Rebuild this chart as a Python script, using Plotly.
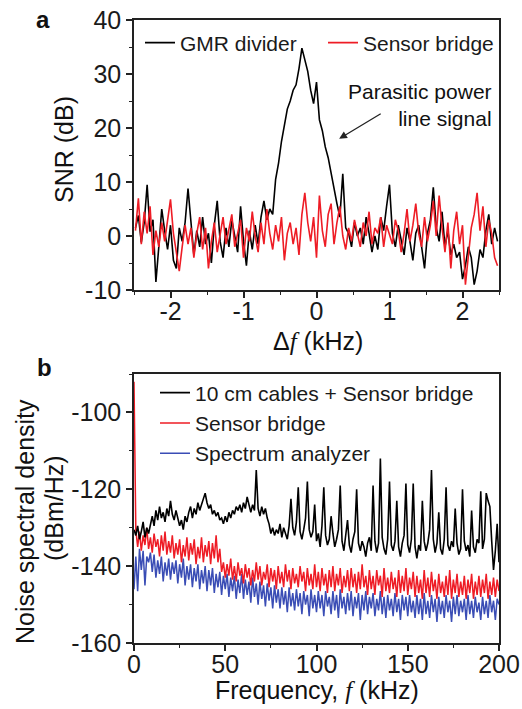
import plotly.graph_objects as go

# ---------------- Panel a data ----------------
a_start, a_step = -2.48, 0.04
gmr_divider = [1.5, 3.8, -1.2, 2.5, 9.5, 0.8, 3.0, -8.5, -2.0, 5.0,
               1.0, -2.5, 2.0, -4.5, -6.0, 1.5, -1.0, 2.5, 8.8, 2.0,
               -3.5, 1.0, -2.0, 3.5, -1.5, 0.5, -5.0, 2.0, 6.5, -1.0,
               -4.0, 1.5, -2.0, 3.0, 0.0, -3.0, 5.5, -1.0, -5.5, 1.0,
               -2.5, 2.0, -1.5, 3.5, 6.5, 3.0, 5.0, 4.0, 10.5, 13.5,
               17.5, 20.5, 23.5, 25.0, 27.0, 28.0, 31.0, 34.8, 32.5, 30.5,
               27.0, 24.5, 28.5, 21.5, 19.5, 16.5, 14.5, 11.5, 8.5, 6.0,
               3.5, 11.5, 1.5, 0.5, -2.0, 2.5, 0.0, 1.5, -1.5, 3.5,
               0.5, -3.0, 0.0, -2.5, 3.5, 1.0, 5.5, 9.5, 0.5, -2.0,
               2.0, -1.0, -3.5, 1.5, -1.0, -4.5, 0.5, 2.0, -2.5, -6.0,
               0.5, 3.0, 9.0, 1.5, -1.0, 4.5, -2.0, 1.0, -3.5, -1.5,
               -4.0, -3.0, -8.0, -5.5, -2.0, -4.0, -9.0, -6.5, -2.5, -4.0,
               1.0, 4.0, -1.5, 1.5, -1.0]
sensor_bridge_a = [1.0, 7.0, -1.5, 4.5, 0.5, 5.5, -3.5, 1.0, -2.0, 2.5,
                   -1.0, 3.0, 6.8, 0.5, -3.0, -6.5, -2.0, 2.0, -1.5, 1.5,
                   -4.0, 0.5, 3.5, -2.5, 1.5, -6.0, -1.0, 2.5, -3.0, 0.0,
                   3.5, -1.5, 1.0, 4.0, -2.0, 0.5, 3.0, -4.0, 1.5, -1.0,
                   4.5, 0.0, -3.0, 2.5, -1.5, 5.0, 0.5, -2.5, 2.0, -1.0,
                   3.5, -4.5, 0.5, 2.5, -1.5, 1.5, -3.5, 4.0, 8.0, 2.5,
                   -1.0, 3.5, -4.0, 7.5, 1.0, -2.0, 4.0, 6.0, -1.5, 2.5,
                   5.5, 0.0, -2.5, 1.5, -1.0, 3.0, 0.5, -2.0, 2.5, 0.0,
                   4.5, -1.5, 1.5, 0.5, 3.5, -2.0, 2.0, 0.0, -1.5, 3.0,
                   1.0, -3.0, 0.5, 5.0, -1.0, 2.0, 6.0, 0.5, -2.0, 3.5,
                   -1.0, 2.0, 6.5, 0.0, 7.5, 1.5, -3.0, 2.5, -6.0, 1.0,
                   4.5, -1.5, 2.0, -9.0, -3.0, 1.5, 4.0, 8.0, 1.0, 5.5,
                   -2.0, 3.0, 0.5, -4.0, -5.5]
delta_f = [round(a_start + a_step * i, 2) for i in range(len(gmr_divider))]
a_xticks = [-2, -1, 0, 1, 2]
a_xticktext = ["-2", "-1", "0", "1", "2"]
a_yticks = [-10, 0, 10, 20, 30, 40]
a_yticktext = ["-10", "0", "10", "20", "30", "40"]

# ---------------- Panel b data (1 kHz steps, 0..200 kHz) ----------------
cables_bridge = [
    -130.5, -132.0, -129.5, -133.0, -131.0, -128.5, -132.5, -130.0, -131.5, -129.0,
    -127.0, -129.5, -125.5, -128.0, -124.5, -127.5, -126.0, -128.5, -125.0, -127.0,
    -123.0, -126.5, -128.0, -125.5, -127.5, -129.5, -128.0, -130.5, -127.0, -128.5,
    -126.0, -124.5, -127.5, -125.0, -126.5, -123.5, -125.5, -124.0, -122.5, -121.0,
    -123.5, -125.0, -124.0, -126.5, -125.5, -127.0, -126.0, -128.0, -127.5, -129.0,
    -127.0, -128.5, -126.0, -127.5, -125.5, -126.5, -124.5, -125.5, -124.0, -126.0,
    -123.5, -125.0, -122.0, -124.5, -126.0, -124.0, -125.5, -115.0, -125.0, -127.0,
    -124.5, -126.5, -125.0, -127.5, -129.0, -131.5, -130.0, -132.0, -130.5, -131.5,
    -129.0, -132.5, -130.0, -131.5, -133.0, -129.5, -122.5, -130.0, -132.0, -128.5,
    -119.5, -131.0, -133.0, -130.5, -127.5, -118.0, -130.5, -132.5, -131.0, -124.0,
    -133.5, -131.5, -135.0, -129.5, -119.5, -132.0, -134.5, -133.0, -127.0, -131.5,
    -135.0, -133.0, -130.5, -119.0, -133.5, -136.0, -132.0, -128.0, -134.5, -136.5,
    -133.0, -131.0, -120.0, -134.0, -136.0, -133.5, -135.0, -137.5, -134.0, -132.5,
    -136.0, -119.0, -133.5, -136.5, -134.0, -112.0, -132.5, -135.5, -137.0, -133.0,
    -118.0, -134.5, -136.0, -133.5, -123.0, -135.0, -137.5, -134.0, -132.0, -118.5,
    -134.5, -136.5, -133.0, -118.5, -135.0, -138.0, -134.5, -136.0, -123.0, -133.5,
    -136.0, -134.0, -130.5, -115.0, -133.0, -136.5, -134.0, -126.0, -135.5, -137.0,
    -133.0, -119.5, -134.5, -136.0, -133.5, -135.0, -125.0, -134.0, -137.0, -135.5,
    -120.0, -133.5, -136.0, -134.5, -137.5, -125.5, -135.0, -136.5, -133.0, -134.0,
    -120.5, -135.5, -133.0, -121.0, -123.0, -124.5, -133.5, -141.0, -136.0, -129.0,
    -139.0]
sensor_bridge_b = [
    -92.0, -130.5, -135.0, -131.0, -136.0, -132.0, -134.5, -130.0, -135.5, -132.5,
    -136.5, -131.5, -135.0, -133.0, -137.5, -132.0, -136.0, -131.0, -137.0, -133.5,
    -136.5, -132.0, -138.0, -134.0, -137.0, -133.0, -139.0, -134.5, -137.5, -132.5,
    -138.5, -134.0, -137.0, -133.0, -139.5, -135.0, -138.0, -132.5, -139.0, -134.5,
    -137.5, -133.5, -139.5, -134.0, -138.0, -132.0, -139.0, -135.5, -141.5, -139.0,
    -143.0, -139.5, -142.5, -138.0, -143.5, -140.0, -144.0, -139.0, -142.5, -140.5,
    -144.5, -139.5, -143.0, -140.5, -145.0, -141.0, -144.0, -139.0, -143.5, -140.0,
    -145.0, -141.5, -143.5, -139.5, -145.5, -140.5, -144.0, -141.0, -146.0, -140.0,
    -144.5, -141.5, -145.5, -139.5, -144.0, -141.0, -146.0, -140.5, -144.5, -142.0,
    -145.5, -140.0, -144.0, -141.5, -146.5, -140.5, -145.0, -142.0, -146.0, -139.5,
    -145.5, -141.5, -146.5, -140.5, -145.0, -142.0, -147.0, -141.0, -145.5, -140.0,
    -146.5, -142.0, -145.0, -140.5, -147.0, -142.5, -145.5, -141.0, -146.5, -140.5,
    -145.5, -142.0, -147.0, -141.5, -146.0, -139.5, -145.5, -142.5, -147.5, -141.0,
    -146.0, -142.5, -147.5, -141.0, -145.0, -142.5, -148.0, -140.5, -146.5, -143.0,
    -147.0, -141.5, -146.0, -143.0, -148.0, -141.0, -147.0, -142.5, -146.5, -140.5,
    -147.5, -143.0, -146.0, -141.5, -148.0, -142.5, -147.0, -143.5, -148.5, -141.0,
    -147.0, -143.0, -148.0, -141.5, -146.5, -143.5, -148.5, -142.0, -147.0, -144.0,
    -148.0, -142.5, -147.5, -141.0, -148.5, -143.5, -147.0, -142.0, -148.0, -144.0,
    -147.5, -142.5, -148.5, -143.5, -147.0, -142.0, -148.5, -144.0, -147.5, -142.5,
    -148.0, -143.5, -147.0, -142.0, -148.5, -144.0, -147.5, -143.0, -148.0, -143.5,
    -146.5]
spectrum_analyzer = [
    -146.0, -137.5, -146.5, -135.5, -141.0, -136.0, -145.0, -137.5, -139.0, -136.5,
    -141.5, -137.0, -143.0, -138.5, -142.0, -137.5, -144.0, -139.0, -142.5, -138.0,
    -143.5, -139.0, -142.0, -138.5, -144.5, -139.5, -143.0, -138.0, -145.0, -140.0,
    -143.5, -139.5, -145.5, -140.5, -144.0, -139.5, -146.0, -141.0, -144.5, -140.0,
    -146.5, -141.0, -145.0, -140.5, -147.0, -142.0, -145.5, -141.5, -147.5, -142.5,
    -146.0, -142.0, -148.0, -143.0, -146.5, -142.5, -148.5, -143.5, -147.0, -142.0,
    -148.5, -143.5, -147.5, -144.0, -149.5, -143.0, -148.0, -144.5, -150.0, -144.0,
    -148.5, -145.0, -150.5, -144.5, -149.0, -145.5, -151.0, -145.0, -149.5, -146.0,
    -151.0, -145.5, -150.0, -146.5, -152.0, -145.5, -150.5, -147.0, -151.5, -146.0,
    -150.5, -147.0, -152.5, -146.5, -150.0, -147.5, -153.0, -146.0, -151.0, -147.5,
    -152.0, -146.5, -151.0, -147.5, -153.0, -146.5, -150.5, -148.0, -152.5, -146.5,
    -151.5, -147.5, -153.5, -146.0, -151.0, -148.0, -152.5, -147.0, -151.5, -146.5,
    -153.0, -148.0, -151.0, -147.0, -154.0, -147.5, -151.5, -146.5, -152.5, -148.0,
    -151.0, -147.0, -153.0, -148.5, -151.5, -146.5, -152.5, -148.0, -153.5, -147.5,
    -151.5, -148.5, -153.0, -147.0, -152.0, -148.5, -154.0, -147.5, -151.5, -148.0,
    -153.0, -147.5, -152.0, -149.0, -153.5, -147.5, -152.5, -148.5, -154.0, -147.0,
    -152.5, -149.0, -153.5, -147.5, -152.0, -148.5, -154.5, -148.0, -152.5, -149.0,
    -153.5, -147.5, -152.0, -149.0, -154.5, -148.0, -152.5, -147.5, -153.0, -149.0,
    -152.0, -148.5, -154.0, -147.5, -152.5, -149.0, -153.5, -148.0, -152.0, -149.5,
    -154.0, -148.0, -152.5, -149.0, -153.5, -147.5, -152.0, -149.0, -154.0, -148.5,
    -150.0]
frequency_khz = list(range(len(cables_bridge)))
b_xticks = [0, 50, 100, 150, 200]
b_yticks = [-160, -140, -120, -100]
b_yticktext = ["-160", "-140", "-120", "-100"]

W, H = 522, 709
FONT = "Liberation Sans, Arial, sans-serif"
AX = "#222222"

def px_x(p):
    return p / W

def px_y(p):
    return 1 - p / H

fig = go.Figure()

# Panel a
fig.add_trace(go.Scatter(x=delta_f, y=gmr_divider, mode="lines", name="GMR divider",
                         line=dict(color="#000000", width=1.6), xaxis="x", yaxis="y",
                         legend="legend"))
fig.add_trace(go.Scatter(x=delta_f, y=sensor_bridge_a, mode="lines", name="Sensor bridge",
                         line=dict(color="#ee1c25", width=1.6), xaxis="x", yaxis="y",
                         legend="legend2"))

# Panel b
fig.add_trace(go.Scatter(x=frequency_khz, y=spectrum_analyzer, mode="lines",
                         name="Spectrum analyzer", legendrank=3,
                         line=dict(color="#3a4db5", width=1.5), xaxis="x2", yaxis="y2",
                         legend="legend3"))
fig.add_trace(go.Scatter(x=frequency_khz, y=sensor_bridge_b, mode="lines",
                         name="Sensor bridge", legendrank=2,
                         line=dict(color="#ee1c25", width=1.5), xaxis="x2", yaxis="y2",
                         legend="legend3"))
fig.add_trace(go.Scatter(x=frequency_khz, y=cables_bridge, mode="lines",
                         name="10 cm cables + Sensor bridge", legendrank=1,
                         line=dict(color="#000000", width=1.6), xaxis="x2", yaxis="y2",
                         legend="legend3"))

xdom = [px_x(134), px_x(499)]
axis_common = dict(showline=True, linecolor=AX, linewidth=1.5, mirror=True,
                   ticks="outside", ticklen=6, tickwidth=1.5, tickcolor=AX,
                   showgrid=False, zeroline=False, automargin=False,
                   tickfont=dict(family=FONT, size=25, color="#1a1a1a"))
minor_common = dict(ticklen=3, tickwidth=1.2, tickcolor=AX, ticks="outside", showgrid=False)

fig.update_layout(
    template="none",
    width=W, height=H, margin=dict(l=0, r=0, t=0, b=0, pad=0, autoexpand=False),
    paper_bgcolor="white", plot_bgcolor="white",
    font=dict(family=FONT, color="#1a1a1a"),
    xaxis=dict(domain=xdom, anchor="y", range=[-2.5, 2.5],
               tickvals=a_xticks, ticktext=a_xticktext, ticklabelstandoff=-8,
               minor=dict(dtick=0.5, tick0=0, **minor_common), **axis_common),
    yaxis=dict(domain=[px_y(290), px_y(20)], anchor="x", range=[-10, 40],
               tickvals=a_yticks, ticktext=a_yticktext,
               minor=dict(dtick=5, tick0=0, **minor_common), **axis_common),
    xaxis2=dict(domain=xdom, anchor="y2", range=[0, 200], tickvals=b_xticks,
                ticklabelstandoff=-8,
                minor=dict(dtick=25, tick0=0, **minor_common), **axis_common),
    yaxis2=dict(domain=[px_y(643), px_y(374)], anchor="x2", range=[-160, -90],
                tickvals=b_yticks, ticktext=b_yticktext,
                minor=dict(tickvals=[-150, -130, -110, -90], **minor_common),
                **axis_common),
    legend=dict(x=px_x(140), y=px_y(43), xanchor="left", yanchor="middle",
                bgcolor="rgba(0,0,0,0)", font=dict(family=FONT, size=21, color="#1a1a1a"),
                itemwidth=30),
    legend2=dict(x=px_x(323), y=px_y(43), xanchor="left", yanchor="middle",
                 bgcolor="rgba(0,0,0,0)", font=dict(family=FONT, size=21, color="#1a1a1a"),
                 itemwidth=30),
    legend3=dict(x=px_x(155), y=px_y(423), xanchor="left", yanchor="middle",
                 bgcolor="rgba(0,0,0,0)", font=dict(family=FONT, size=21, color="#1a1a1a"),
                 itemwidth=30, tracegroupgap=0),
    showlegend=True,
)

def note(text, xp, yp, size=25, angle=0, **kw):
    d = dict(text=text, x=px_x(xp), y=px_y(yp), xref="paper", yref="paper",
             xanchor="center", yanchor="middle", textangle=angle, showarrow=False,
             font=dict(family=FONT, size=size, color="#111111"))
    d.update(kw)
    return d

ann = [
    note("<b>a</b>", 43, 20, size=24),
    note("<b>b</b>", 44, 367, size=24),
    note("SNR (dB)", 64, 150, angle=-90),
    note("Δ<span style='font-family:Liberation Serif;font-style:italic'>f</span> (kHz)", 318, 341),
    note("Noise spectral density", 25, 522, angle=-90),
    note("(dBm/Hz)", 54, 508, angle=-90),
    note("Frequency, <span style='font-family:Liberation Serif;font-style:italic'>f</span> (kHz)", 317, 690),
    note("Parasitic power<br>line signal", 494, 105, size=21, xanchor="right", align="right"),
    dict(text="", x=0.31, y=18.0, xref="x", yref="y", ax=0.90, ay=22.8,
         axref="x", ayref="y", showarrow=True, arrowhead=2, arrowsize=1.2,
         arrowwidth=1.3, arrowcolor="#222222"),
]
fig.update_layout(annotations=ann)

fig.write_html("out.html")
